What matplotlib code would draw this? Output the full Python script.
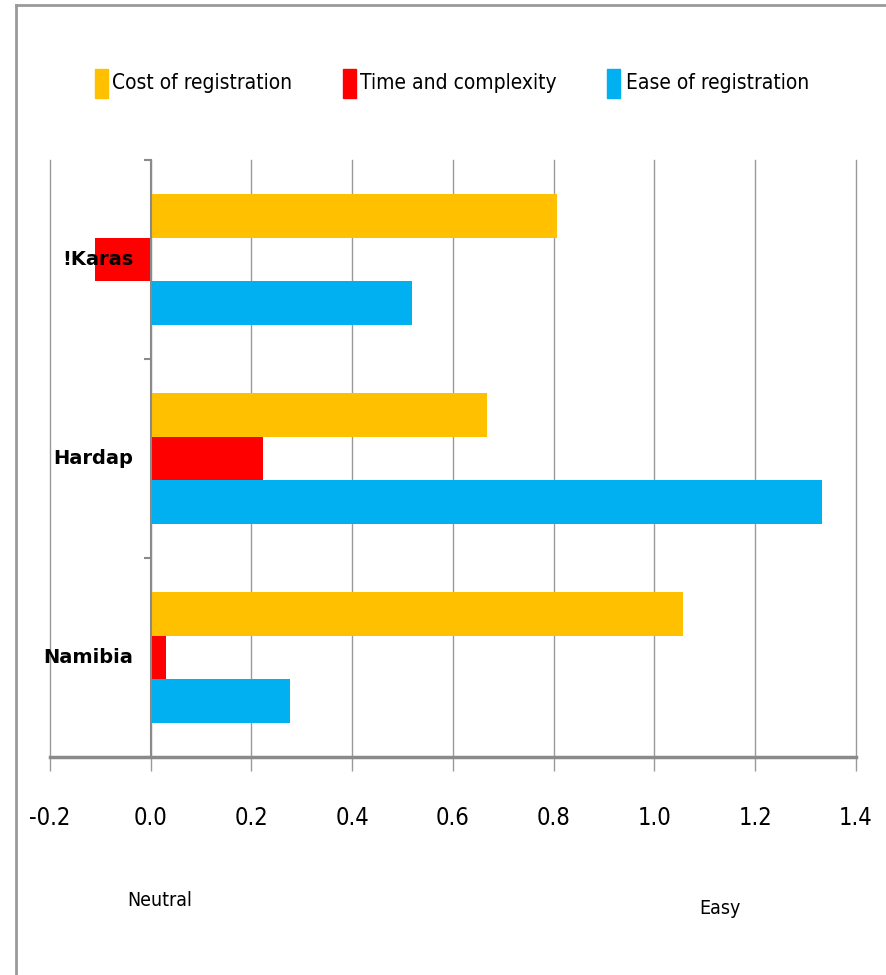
import matplotlib
matplotlib.use('Agg')
import numpy as np
import matplotlib.pyplot as plt
from matplotlib.patches import Rectangle
from matplotlib.lines import Line2D

plt.rcParams['font.family'] = ['DejaVu Sans']
plt.rcParams['font.stretch'] = 'condensed'
plt.rcParams['axes.unicode_minus'] = False

regions = ['!Karas', 'Hardap', 'Namibia']
series = ['Cost of registration', 'Time and complexity', 'Ease of registration']
cost = [0.806, 0.667, 1.056]
time_cx = [-0.111, 0.222, 0.030]
ease = [0.518, 1.332, 0.276]
colors = ['#FFC000', '#FF0000', '#00B0F0']
xticks = [-0.2, 0.0, 0.2, 0.4, 0.6, 0.8, 1.0, 1.2, 1.4]

W, H = 887, 975
fig = plt.figure(figsize=(W / 100, H / 100), dpi=100)
ax = fig.add_axes([50 / W, 1 - 757 / H, (856 - 50) / W, (757 - 160) / H])

# regions listed top to bottom
centers = np.arange(len(regions))[::-1] + 0.5
bh = 0.218
for vals, col, off in zip([cost, time_cx, ease], colors, [bh, 0, -bh]):
    ax.barh(centers + off, vals, height=bh, color=col, zorder=2)

ax.set_xlim(-0.2, 1.4)
ax.set_ylim(0, len(regions))
ax.set_xticks(xticks)
ax.set_xticklabels(['%.1f' % v for v in xticks])
ax.grid(axis='x', color='#9a9a9a', linewidth=1.0)
for gl in ax.get_xgridlines():
    gl.set_clip_on(False)
ax.set_axisbelow(True)

# category boundaries get the small ticks, names are drawn over the bars
ax.set_yticks(np.arange(len(regions) + 1))
ax.set_yticklabels([])
ax.tick_params(axis='y', length=5, width=1.5, color='#8a8a8a', direction='out')
ax.tick_params(axis='x', length=10, width=1.0, color='#9a9a9a', direction='out', pad=25, labelsize=17)
for c, name in zip(centers, regions):
    ax.text(-0.035, c, name, ha='right', va='center', fontsize=14,
            fontweight='bold', fontstretch='normal', zorder=6)

for s in ['top', 'right']:
    ax.spines[s].set_visible(False)
ax.spines['left'].set_position(('data', 0))
ax.spines['left'].set_color('#8a8a8a')
ax.spines['left'].set_linewidth(1.5)
ax.spines['bottom'].set_color('#8a8a8a')
ax.spines['bottom'].set_linewidth(2.5)

# legend row
legend_x = [(95, 112), (343, 360), (607, 626)]
for (sx, tx), name, col in zip(legend_x, series, colors):
    fig.add_artist(Rectangle((sx / W, 1 - 98 / H), 13 / W, 29 / H, color=col,
                             transform=fig.transFigure))
    fig.text(tx / W, 1 - 83 / H, name, fontsize=15, va='center', ha='left')

fig.text(160 / W, 1 - 900 / H, 'Neutral', fontsize=14, ha='center', va='center')
fig.text(720 / W, 1 - 908 / H, 'Easy', fontsize=14, ha='center', va='center')

# chart frame
fig.add_artist(Line2D([16 / W, 16 / W], [0, 1 - 5 / H], color='#9a9a9a', linewidth=2))
fig.add_artist(Line2D([16 / W, 1], [1 - 5 / H, 1 - 5 / H], color='#9a9a9a', linewidth=2))

fig.savefig('out.png', dpi=100)
